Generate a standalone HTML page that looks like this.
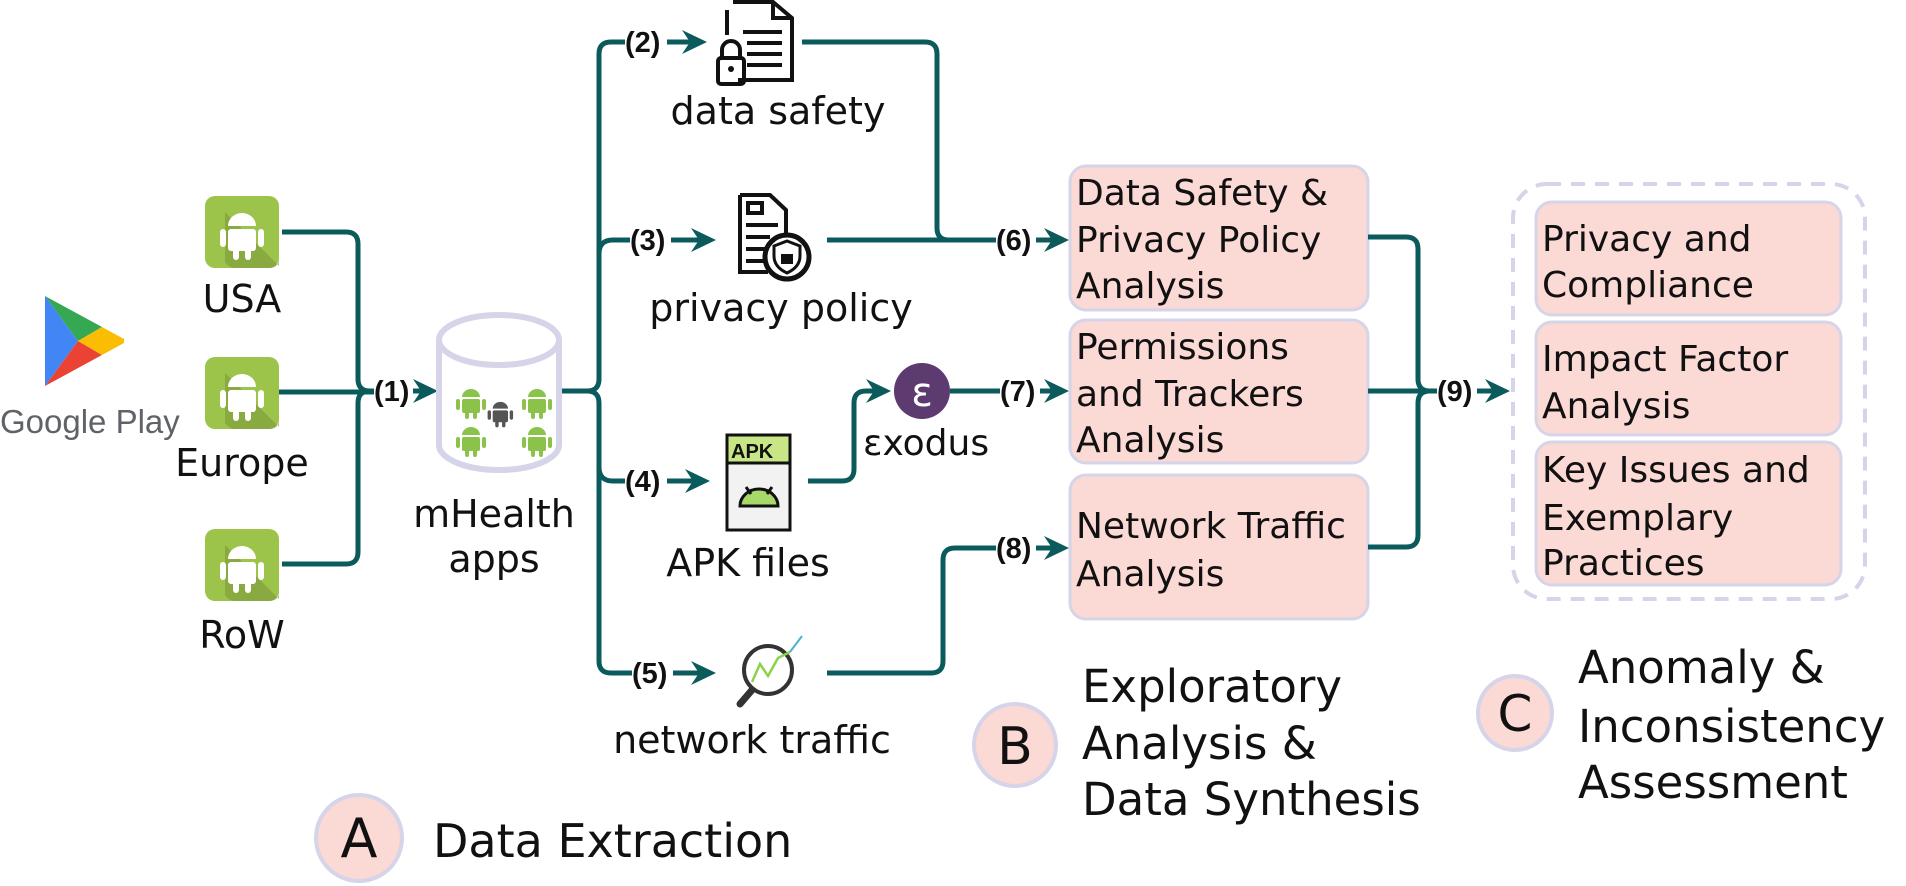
<!DOCTYPE html>
<html><head><meta charset="utf-8"><style>
html,body{margin:0;padding:0;background:#fff;}
svg{display:block;}
.t{font-family:"DejaVu Sans",sans-serif;fill:#111;}
.n{font-family:"Liberation Sans",sans-serif;font-weight:bold;font-size:29px;fill:#111;}
.ln{fill:none;stroke:#0b5a5c;stroke-width:5;}
.box{fill:#fbd9d5;stroke:#d6d4e8;stroke-width:3;}
.ic{fill:none;stroke:#111;stroke-width:4;}
</style></head><body>
<svg width="1906" height="886" viewBox="0 0 1906 886" xmlns="http://www.w3.org/2000/svg">
<defs>
<g id="andapp">
  <rect x="0" y="0" width="74" height="72" rx="10" fill="#9cc34a"/>
  <path d="M20,16 L74,70 L74,62 Q74,72 64,72 L64,72 L30,72 Q24,72 20,66 Z" fill="#7c9a3a" opacity="0.6"/>
  <path d="M23,30 A14,13 0 0 1 51,30 Z" fill="#fff"/>
  <rect x="23" y="33" width="28" height="22" rx="3" fill="#fff"/>
  <rect x="15" y="33" width="6" height="18" rx="3" fill="#fff"/>
  <rect x="53" y="33" width="6" height="18" rx="3" fill="#fff"/>
  <rect x="28" y="52" width="6" height="12" rx="3" fill="#fff"/>
  <rect x="40" y="52" width="6" height="12" rx="3" fill="#fff"/>
</g>
<g id="mini">
  <path d="M2,9 A9,8 0 0 1 20,9 Z"/>
  <rect x="2" y="11" width="18" height="14" rx="2"/>
  <rect x="-4" y="11" width="4" height="11" rx="2"/>
  <rect x="22" y="11" width="4" height="11" rx="2"/>
  <rect x="5" y="23" width="4" height="8" rx="2"/>
  <rect x="13" y="23" width="4" height="8" rx="2"/>
</g>
</defs>

<!-- Google Play -->
<polygon points="45,296 78,341 45,386" fill="#4285f4"/>
<polygon points="45,296 102,327 78,341" fill="#34a853"/>
<polygon points="45,386 78,341 102,355" fill="#ea4335"/>
<polygon points="102,327 124,339 124,343 102,355 78,341" fill="#fbbc04"/>
<text x="0" y="433" font-family="Liberation Sans,sans-serif" font-size="33" fill="#5f6368">Google Play</text>

<!-- android apps -->
<use href="#andapp" x="205" y="196"/>
<use href="#andapp" x="205" y="357"/>
<use href="#andapp" x="205" y="529"/>
<text class="t" x="242" y="312" font-size="38" text-anchor="middle">USA</text>
<text class="t" x="242" y="476" font-size="38" text-anchor="middle">Europe</text>
<text class="t" x="242" y="648" font-size="38" text-anchor="middle">RoW</text>

<!-- connectors A -->
<path class="ln" d="M282,232 H346 Q358,232 358,244 V379 Q358,391 370,391 H374"/>
<path class="ln" d="M279,392 H374"/>
<path class="ln" d="M282,564 H346 Q358,564 358,552 V403 Q358,391 370,391"/>
<text class="n" x="374" y="401">(1)</text>
<path class="ln" d="M413,391 H425"/><polygon points="438,391 413,379 421,391 413,403" fill="#0b5a5c"/>

<!-- cylinder -->
<path d="M439,340 V445 A60,25 0 0 0 559,445 V340" fill="#fff" stroke="#d6d4e8" stroke-width="6"/>
<ellipse cx="499" cy="340" rx="60" ry="25" fill="#fff" stroke="#d6d4e8" stroke-width="6"/>
<g fill="#8bc34a">
<use href="#mini" x="460" y="388"/><use href="#mini" x="526" y="388"/>
<use href="#mini" x="460" y="426"/><use href="#mini" x="526" y="426"/>
</g>
<g fill="#555"><use href="#mini" x="491" y="401" transform="translate(491 401) scale(0.85) translate(-491 -401)"/></g>
<text class="t" x="494" y="527" font-size="38" text-anchor="middle">mHealth</text>
<text class="t" x="494" y="572" font-size="38" text-anchor="middle">apps</text>

<!-- branch -->
<path class="ln" d="M562,391 H587 Q599,391 599,379 V54 Q599,42 611,42 H625"/>
<path class="ln" d="M599,254 Q599,240 613,240 H630"/>
<path class="ln" d="M587,391 Q599,391 599,403 V661 Q599,673 611,673 H632"/>
<path class="ln" d="M599,467 Q599,481 613,481 H625"/>
<text class="n" x="625" y="52">(2)</text>
<path class="ln" d="M667,42 H690"/><polygon points="707,42 682,30 690,42 682,54" fill="#0b5a5c"/>
<text class="n" x="630" y="250">(3)</text>
<path class="ln" d="M671,240 H700"/><polygon points="716,240 691,228 699,240 691,252" fill="#0b5a5c"/>
<text class="n" x="625" y="491">(4)</text>
<path class="ln" d="M667,481 H694"/><polygon points="710,481 685,469 693,481 685,493" fill="#0b5a5c"/>
<text class="n" x="632" y="683">(5)</text>
<path class="ln" d="M673,673 H700"/><polygon points="716,673 691,661 699,673 691,685" fill="#0b5a5c"/>

<!-- data safety icon -->
<path class="ic" d="M733,2 H773 L792,18 V80 H738" stroke-width="3"/>
<path d="M773,2 V18 H792" class="ic" stroke-width="3"/>
<path d="M743,32 H782 M747,43 H782 M747,54 H782 M747,65 H782" class="ic" stroke-width="3"/>
<path d="M727,10 V35" class="ic" stroke-width="3"/>
<path d="M722,58 V50 A9,9 0 0 1 740,50 V58" class="ic" stroke-width="3"/>
<rect x="718" y="58" width="26" height="26" rx="3" class="ic" stroke-width="3" fill="#fff"/>
<circle cx="731" cy="69" r="3" fill="#111"/>
<text class="t" x="778" y="124" font-size="38" text-anchor="middle">data safety</text>

<!-- privacy policy icon -->
<path class="ic" d="M740,195 H770 L786,210 V250 M765,272 H740 Z" stroke-width="5"/>
<path class="ic" d="M740,195 V272 H768" stroke-width="5"/>
<rect x="748" y="203" width="14" height="10" class="ic" stroke-width="4"/>
<path class="ic" d="M746,225 H778 M746,237 H770 M746,249 H768 M746,261 H765" stroke-width="4"/>
<circle cx="787" cy="257" r="22" fill="#fff" stroke="#111" stroke-width="5"/>
<path d="M787,241 L800,246 V256 Q800,267 787,273 Q774,267 774,256 V246 Z" fill="none" stroke="#111" stroke-width="3"/>
<rect x="781" y="254" width="12" height="10" fill="#111"/>
<text class="t" x="781" y="321" font-size="38" text-anchor="middle">privacy policy</text>

<!-- APK icon -->
<path d="M727,435 H780 L790,445 V530 H727 Z" fill="#f2f2f2" stroke="#111" stroke-width="3"/>
<rect x="727" y="435" width="63" height="28" fill="#c8e685" stroke="#111" stroke-width="3"/>
<text x="731" y="458" font-family="Liberation Sans,sans-serif" font-size="20" font-weight="bold" fill="#111">APK</text>
<path d="M740,506 A19,17 0 0 1 778,506 Z" fill="#a6d86a" stroke="#111" stroke-width="3"/>
<path d="M746,487 L751,494 M772,487 L767,494" stroke="#111" stroke-width="3"/>
<text class="t" x="748" y="576" font-size="38" text-anchor="middle">APK files</text>

<!-- APK to exodus -->
<path class="ln" d="M808,481 H842 Q854,481 854,469 V403 Q854,391 866,391 H876"/>
<polygon points="891,391 866,379 874,391 866,403" fill="#0b5a5c"/>
<circle cx="922" cy="391" r="28" fill="#5d3a6f"/>
<text x="922" y="406" font-family="DejaVu Sans,sans-serif" font-size="40" fill="#fff" text-anchor="middle">ɛ</text>
<text class="t" x="863" y="455" font-size="36">ɛxodus</text>
<path class="ln" d="M950,391 H1000"/>
<text class="n" x="1000" y="401">(7)</text>
<path class="ln" d="M1040,391 H1055"/><polygon points="1069,391 1044,379 1052,391 1044,403" fill="#0b5a5c"/>

<!-- magnifier -->
<circle cx="768" cy="670" r="24" fill="#fff" stroke="#333" stroke-width="4"/>
<path d="M752,682 L760,664 L768,676 L778,658 L790,652" fill="none" stroke="#8bd34a" stroke-width="2.5"/>
<path d="M790,652 L802,636" stroke="#4ab3d3" stroke-width="2"/>
<path d="M752,690 L740,704" stroke="#333" stroke-width="7" stroke-linecap="round"/>
<text class="t" x="752" y="753" font-size="38" text-anchor="middle">network traffic</text>

<!-- to B -->
<path class="ln" d="M802,42 H925 Q937,42 937,54 V228 Q937,240 949,240 H996"/>
<path class="ln" d="M827,240 H996"/>
<text class="n" x="996" y="250">(6)</text>
<path class="ln" d="M1036,240 H1055"/><polygon points="1069,240 1044,228 1052,240 1044,252" fill="#0b5a5c"/>
<path class="ln" d="M827,673 H931 Q943,673 943,661 V560 Q943,548 955,548 H996"/>
<text class="n" x="996" y="558">(8)</text>
<path class="ln" d="M1036,548 H1055"/><polygon points="1069,548 1044,536 1052,548 1044,560" fill="#0b5a5c"/>

<!-- B boxes -->
<rect class="box" x="1070" y="166" width="298" height="144" rx="16"/>
<rect class="box" x="1070" y="320" width="298" height="143" rx="16"/>
<rect class="box" x="1070" y="475" width="298" height="144" rx="16"/>
<g class="t" font-size="36">
<text x="1076" y="205">Data Safety &amp;</text>
<text x="1076" y="252">Privacy Policy</text>
<text x="1076" y="298">Analysis</text>
<text x="1076" y="359">Permissions</text>
<text x="1076" y="406">and Trackers</text>
<text x="1076" y="452">Analysis</text>
<text x="1076" y="538">Network Traffic</text>
<text x="1076" y="586">Analysis</text>
</g>

<!-- to C -->
<path class="ln" d="M1368,237 H1406 Q1418,237 1418,249 V379 Q1418,391 1430,391"/>
<path class="ln" d="M1368,391 H1437"/>
<path class="ln" d="M1368,547 H1406 Q1418,547 1418,535 V403 Q1418,391 1430,391"/>
<text class="n" x="1437" y="401">(9)</text>
<path class="ln" d="M1477,391 H1496"/><polygon points="1510,391 1485,379 1493,391 1485,403" fill="#0b5a5c"/>

<rect x="1513" y="184" width="352" height="415" rx="34" fill="none" stroke="#d6d4e8" stroke-width="4" stroke-dasharray="14,10"/>
<rect class="box" x="1536" y="202" width="305" height="113" rx="16"/>
<rect class="box" x="1536" y="322" width="305" height="113" rx="16"/>
<rect class="box" x="1536" y="442" width="305" height="143" rx="16"/>
<g class="t" font-size="36">
<text x="1542" y="251">Privacy and</text>
<text x="1542" y="297">Compliance</text>
<text x="1542" y="371">Impact Factor</text>
<text x="1542" y="418">Analysis</text>
<text x="1542" y="482">Key Issues and</text>
<text x="1542" y="530">Exemplary</text>
<text x="1542" y="575">Practices</text>
</g>

<!-- section labels -->
<circle cx="359" cy="838" r="43" fill="#fbd9d5" stroke="#d6d4e8" stroke-width="4"/>
<text class="t" x="359" y="857" font-size="54" text-anchor="middle">A</text>
<text class="t" x="433" y="857" font-size="46">Data Extraction</text>

<circle cx="1015" cy="745" r="41" fill="#fbd9d5" stroke="#d6d4e8" stroke-width="4"/>
<text class="t" x="1015" y="764" font-size="52" text-anchor="middle">B</text>
<g class="t" font-size="45">
<text x="1082" y="702">Exploratory</text>
<text x="1082" y="759">Analysis &amp;</text>
<text x="1082" y="815">Data Synthesis</text>
</g>

<circle cx="1515" cy="713" r="37" fill="#fbd9d5" stroke="#d6d4e8" stroke-width="4"/>
<text class="t" x="1515" y="731" font-size="50" text-anchor="middle">C</text>
<g class="t" font-size="45">
<text x="1578" y="683">Anomaly &amp;</text>
<text x="1578" y="742">Inconsistency</text>
<text x="1578" y="798">Assessment</text>
</g>
</svg>
</body></html>
